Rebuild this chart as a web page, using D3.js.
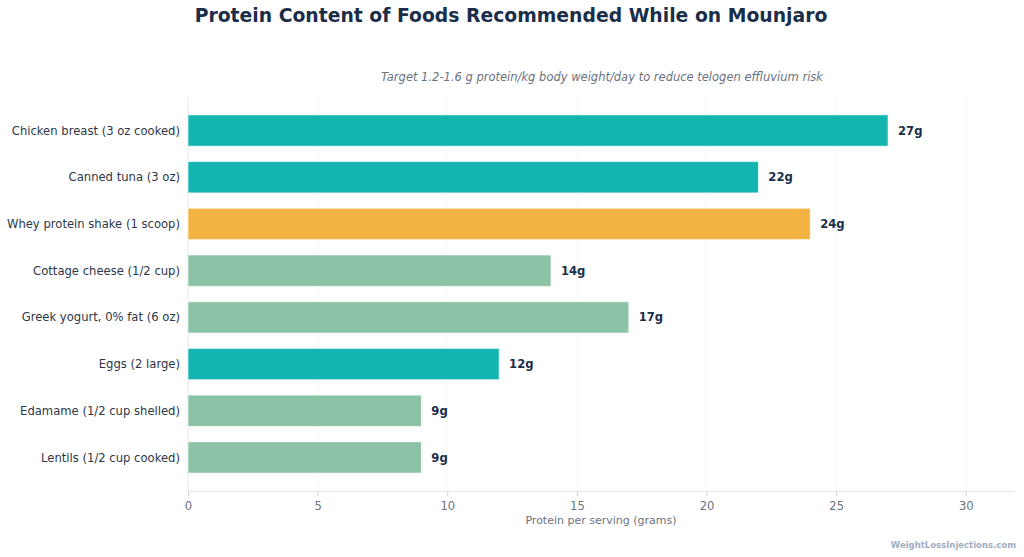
<!DOCTYPE html>
<html><head><meta charset="utf-8">
<script src="https://cdn.jsdelivr.net/npm/d3@7"></script>
<style>body{margin:0;background:#fff;} svg{display:block;font-family:"DejaVu Sans",sans-serif;}</style>
</head><body>
<svg id="c" width="1024" height="557"></svg>
<script>
const categories = ["Chicken breast (3 oz cooked)","Canned tuna (3 oz)","Whey protein shake (1 scoop)","Cottage cheese (1/2 cup)","Greek yogurt, 0% fat (6 oz)","Eggs (2 large)","Edamame (1/2 cup shelled)","Lentils (1/2 cup cooked)"];
const values = [27,22,24,14,17,12,9,9];
const groups = ["animal","animal","supplement","dairy","dairy","animal","plant","plant"];
const xTicks = [0,5,10,15,20,25,30];
const colorMap = {animal:"#14b5b0", supplement:"#f2b342", dairy:"#8cc2a6", plant:"#8cc2a6"};

const svg = d3.select("#c");
const L = 188, R = 1014, T = 97, B = 491;
const x = d3.scaleLinear().domain([0, 31.86]).range([L, R]);
const y = d3.scaleBand().domain(categories).range([T, B]).paddingInner(0.33).paddingOuter(0.383);

// grid
svg.append("g").selectAll("line").data(xTicks.slice(1)).join("line")
  .attr("x1", d=>x(d)).attr("x2", d=>x(d)).attr("y1", T).attr("y2", B)
  .attr("stroke", "#f1f2f4").attr("stroke-width", 1).attr("stroke-dasharray","2,2");
// left axis line
svg.append("line").attr("x1", L).attr("x2", L).attr("y1", T).attr("y2", B).attr("stroke", "#e5e7eb");

// bars
svg.append("g").selectAll("rect").data(values).join("rect")
  .attr("x", x(0)).attr("y", (d,i)=>y(categories[i]))
  .attr("width", d=>x(d)-x(0)).attr("height", y.bandwidth())
  .attr("fill", (d,i)=>colorMap[groups[i]])
  .attr("stroke", "#ffffff").attr("stroke-opacity", 0.6).attr("stroke-width", 1);

// value labels
svg.append("g").selectAll("text").data(values).join("text")
  .attr("x", d=>x(d)+10).attr("y", (d,i)=>y(categories[i])+y.bandwidth()/2)
  .attr("dy", "0.35em").attr("font-size", 11.6).attr("font-weight", "bold").attr("fill", "#1a2e4a")
  .text(d=>d+"g");

// category labels
svg.append("g").selectAll("text").data(categories).join("text")
  .attr("x", L-8).attr("y", d=>y(d)+y.bandwidth()/2).attr("dy","0.35em")
  .attr("text-anchor","end").attr("font-size", 11.6).attr("fill", "#2d3748").text(d=>d);

// x axis
const xa = svg.append("g").attr("transform", `translate(0,${B})`)
  .call(d3.axisBottom(x).tickValues(xTicks).tickSize(5).tickPadding(6));
xa.select(".domain").attr("stroke", "#e5e7eb").attr("d", `M${L},0.5H${R}`);
xa.selectAll(".tick line").attr("stroke", "#d1d5db");
xa.selectAll(".tick text").attr("fill", "#6b7280").attr("font-size", 11.6).attr("font-family","DejaVu Sans");

svg.append("text").attr("x", (L+R)/2).attr("y", 524).attr("text-anchor","middle")
  .attr("font-size", 11).attr("fill", "#6b7280").text("Protein per serving (grams)");

// title
svg.append("text").attr("x", 511).attr("y", 22).attr("text-anchor","middle")
  .attr("font-size", 18.8).attr("font-weight","bold").attr("fill", "#1a2e4a")
  .text("Protein Content of Foods Recommended While on Mounjaro");
svg.append("text").attr("x", 823).attr("y", 81).attr("text-anchor","end")
  .attr("font-size", 11.5).attr("font-style","italic").attr("fill", "#6b7280")
  .text("Target 1.2-1.6 g protein/kg body weight/day to reduce telogen effluvium risk");

svg.append("text").attr("x", 1016).attr("y", 548).attr("text-anchor","end")
  .attr("font-size", 8.5).attr("font-weight","bold").attr("fill", "#a0aec0")
  .text("WeightLossInjections.com");
</script>
</body></html>
